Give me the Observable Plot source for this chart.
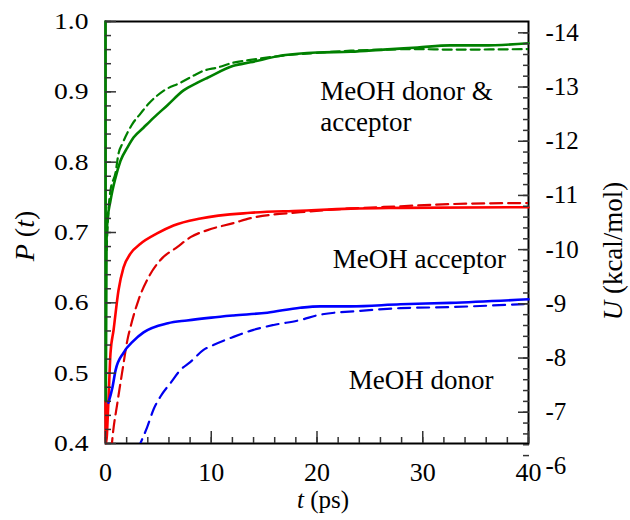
<!DOCTYPE html>
<html><head><meta charset="utf-8">
<script src="https://cdn.jsdelivr.net/npm/d3@7"></script>
<script src="https://cdn.jsdelivr.net/npm/@observablehq/plot@0.6"></script>
<style>
body{margin:0;background:#fff}
#chart svg{display:block}
#chart svg, #chart svg text, #chart svg tspan{font-family:"Liberation Serif", "Times New Roman", serif !important;}
</style>
</head><body><div id="chart"></div>
<script>
// ---- data (t in ps; P dimensionless; U in kcal/mol) ----
const greenSolidT = [0, 0.03, 0.1, 0.19, 0.47, 0.95, 1.42, 2.08, 2.65, 3.59, 4.54, 5.86, 7.38, 8.70, 9.65, 12.1, 13.7, 16.8, 20.0, 23.2, 26.3, 29.5, 32.6, 35.7, 40];
const greenSolidP = [1.0, 0.46, 0.689, 0.717, 0.745, 0.778, 0.802, 0.821, 0.835, 0.849, 0.863, 0.881, 0.902, 0.913, 0.920, 0.937, 0.942, 0.952, 0.956, 0.957, 0.960, 0.963, 0.966, 0.966, 0.969];

const greenDashT = [0.1, 0.28, 0.47, 0.95, 1.23, 1.61, 2.55, 3.31, 4.07, 5.48, 7.09, 8.32, 9.27, 10.6, 12.1, 13.7, 16.8, 20.0, 23.2, 26.3, 29.5, 32.6, 40];
const greenDashU = [-9.99, -10.72, -11.09, -11.42, -11.77, -11.96, -12.32, -12.51, -12.69, -12.93, -13.08, -13.21, -13.30, -13.36, -13.45, -13.50, -13.58, -13.63, -13.67, -13.69, -13.70, -13.69, -13.70];

const redSolidT = [0, 0.05, 0.28, 0.47, 0.76, 1.23, 1.70, 2.36, 3.31, 4.92, 6.43, 8.98, 13.7, 18.4, 23.2, 27.9, 40];
const redSolidP = [0.46, 0.40, 0.461, 0.528, 0.561, 0.618, 0.650, 0.670, 0.684, 0.699, 0.710, 0.720, 0.728, 0.731, 0.734, 0.735, 0.736];

const redDashT = [0.55, 0.66, 1.13, 1.61, 2.08, 2.36, 3.12, 4.07, 5.20, 6.81, 8.04, 9.65, 12.1, 13.7, 18.4, 23.2, 27.9, 32.6, 40];
const redDashU = [-6.3, -6.53, -7.18, -7.78, -8.34, -8.57, -9.07, -9.49, -9.81, -10.05, -10.23, -10.36, -10.49, -10.58, -10.69, -10.76, -10.80, -10.84, -10.86];

const blueSolidT = [0.28, 0.66, 0.95, 1.70, 2.65, 3.6, 5.9, 7.7, 10.0, 12.1, 15.3, 18.4, 20.3, 23.2, 27.9, 32.6, 40];
const blueSolidP = [0.458, 0.480, 0.504, 0.529, 0.546, 0.558, 0.571, 0.575, 0.579, 0.582, 0.586, 0.593, 0.595, 0.595, 0.598, 0.600, 0.605];

const blueDashT = [3.0, 3.97, 4.54, 5.20, 6.15, 7.09, 8.04, 9.27, 10.2, 12.1, 14.0, 15.9, 18.4, 20.3, 24.1, 27.9, 32.6, 40];
const blueDashU = [-6.3, -6.74, -7.05, -7.29, -7.54, -7.78, -7.93, -8.15, -8.24, -8.39, -8.52, -8.61, -8.70, -8.80, -8.87, -8.92, -8.94, -9.00];

const annotationText = ["MeOH donor &", "acceptor", "MeOH acceptor", "MeOH donor"];
const annotationT = [20.3, 20.3, 21.5, 23.0];
const annotationP = [0.900, 0.856, 0.6625, 0.4904];

const xMajorTicks = [0, 10, 20, 30, 40];
const leftMajorTicks = [0.4, 0.5, 0.6, 0.7, 0.8, 0.9, 1.0];
const rightLabelTicks = [-6, -7, -8, -9, -10, -11, -12, -13, -14];
const rightMajorTicks = [-7, -8, -9, -10, -11, -12, -13, -14];

// secondary (right) axis: U mapped into the P coordinate of the shared y scale
const uToP = d3.scaleLinear().domain([-6, -14]).range([0.3674, 0.9839]);

const rows = (ts, vs, conv) => ts.map((t, i) => ({t, p: conv ? conv(vs[i]) : vs[i]}));
const greenSolid = rows(greenSolidT, greenSolidP);
const greenDash = rows(greenDashT, greenDashU, uToP);
const redSolid = rows(redSolidT, redSolidP);
const redDash = rows(redDashT, redDashU, uToP);
const blueSolid = rows(blueSolidT, blueSolidP);
const blueDash = rows(blueDashT, blueDashU, uToP);
const annotations = annotationText.map((text, i) => ({text, t: annotationT[i], p: annotationP[i]}));

const xMinor = d3.range(0, 40.001, 2);
const leftMinor = d3.range(0.4, 1.0001, 0.02);
const rightMinorP = d3.range(-6.2, -14.001, -0.2).map(uToP);
const rightMajorP = rightMajorTicks.map(uToP);
const rightLabelP = rightLabelTicks.map(uToP);
const blank = () => "";
const tickStyle = {stroke: "#333", strokeWidth: 1.5, label: null, tickFormat: blank};
const curve = "monotone-x";

const plot = Plot.plot({
  width: 630, height: 520,
  marginLeft: 105, marginRight: 102, marginTop: 21, marginBottom: 77,
  style: {fontFamily: "Liberation Serif", background: "white", color: "black"},
  x: {domain: [0, 40]},
  y: {domain: [0.4, 1.0]},
  marks: [
    Plot.frame({stroke: "black", strokeWidth: 2}),
    Plot.line(greenDash, {x: "t", y: "p", curve, stroke: "#008000", strokeWidth: 2.2, strokeDasharray: "9,5", clip: true}),
    Plot.line(redDash, {x: "t", y: "p", curve, stroke: "#dd0000", strokeWidth: 2.2, strokeDasharray: "12,6", clip: true}),
    Plot.line(blueDash, {x: "t", y: "p", curve, stroke: "#0000ee", strokeWidth: 2.2, strokeDasharray: "12,7", clip: true}),
    Plot.line(redSolid, {x: "t", y: "p", curve, stroke: "#ff0000", strokeWidth: 2.6}),
    Plot.line(blueSolid, {x: "t", y: "p", curve, stroke: "#0000ff", strokeWidth: 2.6}),
    Plot.line(greenSolid, {x: "t", y: "p", curve, stroke: "#008000", strokeWidth: 2.6}),
    // left axis
    Plot.axisY(leftMinor, {anchor: "left", tickSize: -6, ...tickStyle}),
    Plot.axisY(leftMajorTicks, {anchor: "left", tickSize: -11, ...tickStyle}),
    Plot.axisY(leftMajorTicks, {anchor: "left", tickSize: 0, tickPadding: 17, tickFormat: d => d.toFixed(1), label: null, fontSize: 23}),
    // bottom axis
    Plot.axisX(xMinor, {anchor: "bottom", tickSize: -6, ...tickStyle}),
    Plot.axisX(xMajorTicks, {anchor: "bottom", tickSize: -12, ...tickStyle}),
    Plot.axisX(xMajorTicks, {anchor: "bottom", tickSize: 0, tickPadding: 19, tickFormat: d => String(d), label: null, fontSize: 26}),
    // right axis (U)
    Plot.axisY(rightMinorP, {anchor: "right", tickSize: -6, ...tickStyle}),
    Plot.axisY(rightMajorP, {anchor: "right", tickSize: -11, ...tickStyle}),
    Plot.axisY(rightLabelP, {anchor: "right", tickSize: 0, tickPadding: 17, tickFormat: p => String(Math.round(uToP.invert(p))), label: null, fontSize: 25}),
    // annotations
    Plot.text(annotations, {x: "t", y: "p", text: "text", textAnchor: "start", lineAnchor: "middle", fontSize: 27})
  ]
});

const svg = d3.select(plot);
// the reference's left tick labels are drawn horizontally widened
svg.selectAll('g[aria-label="y-axis tick label"]').each(function() {
  const g = d3.select(this);
  if (g.attr("text-anchor") !== "end") return;
  g.selectAll("text").each(function() {
    const t = d3.select(this);
    const tr = t.attr("transform");
    if (tr) t.attr("transform", tr + " scale(1.2,1)");
    else {
      const x = +t.attr("x") || 0, y = +t.attr("y") || 0;
      t.attr("x", null).attr("y", null).attr("transform", `translate(${x},${y}) scale(1.2,1)`);
    }
  });
});
function title(transform, anchor, size, parts) {
  const t = svg.append("text").attr("transform", transform).attr("text-anchor", anchor)
    .style("font-size", size + "px").attr("fill", "black");
  parts.forEach(([s, it]) => t.append("tspan").text(s).style("font-style", it ? "italic" : "normal"));
}
title("translate(34,236) rotate(-90)", "middle", 28, [["P", true], [" (", false], ["t", true], [")", false]]);
title("translate(297,508)", "start", 25, [["t", true], [" (ps)", false]]);
title("translate(622,251) rotate(-90)", "middle", 27, [["U", true], [" (kcal/mol)", false]]);

document.getElementById("chart").appendChild(plot);
</script>
</body></html>
